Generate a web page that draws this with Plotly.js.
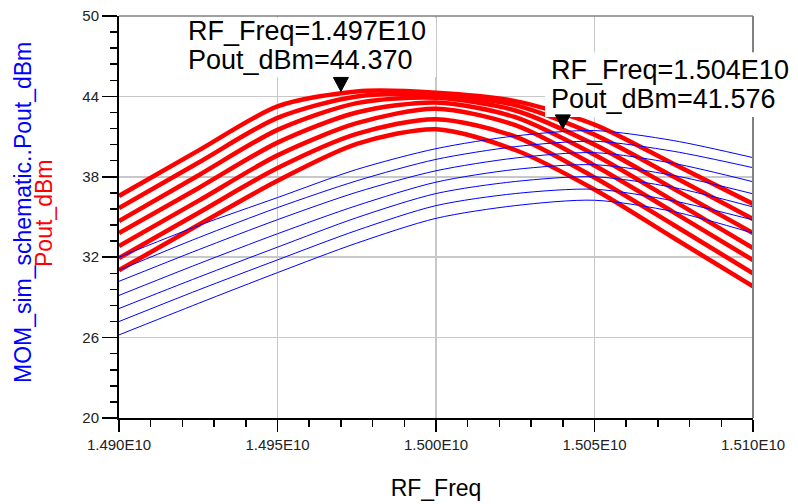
<!DOCTYPE html>
<html><head><meta charset="utf-8">
<script src="https://cdn.plot.ly/plotly-3.0.1.min.js"></script>
<style>html,body{margin:0;padding:0;background:#fff}#chart{width:798px;height:504px}</style>
</head><body><div id="chart"></div>
<script>
// RF frequency samples (Hz)
const freq = [1.4900e10, 1.4925e10, 1.4950e10, 1.4975e10, 1.5000e10, 1.5025e10, 1.5050e10, 1.5075e10, 1.5100e10];

// Pout_dBm (red, thick) – one array per swept curve
const pout0 = [36.57, 39.95, 43.25, 44.37, 44.28, 43.65, 41.90, 38.95, 35.98];
const pout1 = [35.67, 39.05, 42.40, 44.00, 44.12, 43.35, 41.15, 38.00, 34.85];
const pout2 = [34.70, 38.10, 41.50, 43.50, 43.90, 42.95, 40.40, 37.10, 33.80];
const pout3 = [33.80, 37.15, 40.55, 42.80, 43.55, 42.45, 39.65, 36.20, 32.68];
const pout4 = [32.83, 36.20, 39.60, 42.00, 43.08, 41.85, 38.85, 35.35, 31.78];
const pout5 = [31.93, 35.30, 38.65, 41.20, 42.30, 41.00, 37.95, 34.40, 30.80];
const pout6 = [31.03, 34.40, 37.70, 40.45, 41.55, 40.00, 37.05, 33.43, 29.83];

// MOM_sim_schematic..Pout_dBm (blue, thin)
const mom0 = [32.00, 34.35, 36.45, 38.55, 40.10, 41.05, 41.45, 40.70, 39.43];
const mom1 = [31.03, 33.45, 35.70, 37.70, 39.30, 40.25, 40.65, 39.90, 38.68];
const mom2 = [30.20, 32.55, 34.80, 36.85, 38.45, 39.40, 39.80, 39.00, 37.63];
const mom3 = [29.15, 31.50, 33.75, 35.85, 37.60, 38.55, 38.90, 38.10, 36.73];
const mom4 = [28.17, 30.50, 32.75, 34.95, 36.75, 37.65, 38.00, 37.20, 35.75];
const mom5 = [27.20, 29.55, 31.80, 34.00, 35.85, 36.75, 37.07, 36.20, 34.78];
const mom6 = [26.20, 28.55, 30.85, 33.05, 34.90, 35.85, 36.25, 35.40, 33.80];

// Markers
const markerFreq = [1.497e10, 1.504e10];
const markerPout = [44.370, 41.576];

// Axis ticks
const xTickVals = [1.490e10, 1.495e10, 1.500e10, 1.505e10, 1.510e10];
const xTickText = ['1.490E10', '1.495E10', '1.500E10', '1.505E10', '1.510E10'];
const yTickVals = [20, 26, 32, 38, 44, 50];
const yTickText = ['20', '26', '32', '38', '44', '50'];

const redSeries = [pout0, pout1, pout2, pout3, pout4, pout5, pout6];
const blueSeries = [mom0, mom1, mom2, mom3, mom4, mom5, mom6];

const traces = [];
redSeries.forEach((s, i) => traces.push({
  x: freq, y: s, type: 'scatter', mode: 'lines', name: 'Pout_dBm ' + i,
  line: {color: '#ff0000', width: 4.5, shape: 'spline', smoothing: 0.8}, hoverinfo: 'x+y'
}));
blueSeries.forEach((s, i) => traces.push({
  x: freq, y: s, type: 'scatter', mode: 'lines', name: 'MOM_sim_schematic..Pout_dBm ' + i,
  line: {color: '#0000ff', width: 1, shape: 'spline', smoothing: 0.8}, hoverinfo: 'x+y'
}));

const FONT = 'Liberation Sans, Arial, sans-serif';
const annFont = {family: FONT, size: 27, color: '#000'};

const textPos = [
  {x: 0.1072, y1: 0.9627, y2: 0.8905},
  {x: 0.6798, y1: 0.8657, y2: 0.7935}
];

const annotations = [
  {xref: 'paper', yref: 'paper', x: -0.1514, y: 0.51, xanchor: 'center', yanchor: 'middle',
   text: 'MOM_sim_schematic..Pout_dBm', textangle: -90, showarrow: false,
   font: {family: FONT, size: 23, color: '#0000ff'}},
  {xref: 'paper', yref: 'paper', x: -0.1183, y: 0.51, xanchor: 'center', yanchor: 'middle',
   text: 'Pout_dBm', textangle: -90, showarrow: false,
   font: {family: FONT, size: 23, color: '#ff0000'}}
];
markerFreq.forEach((f, i) => {
  annotations.push({xref: 'paper', yref: 'paper', x: textPos[i].x, y: textPos[i].y1,
    xanchor: 'left', yanchor: 'middle', showarrow: false, borderpad: 0,
    text: 'RF_Freq=' + (f / 1e10).toFixed(3) + 'E10', font: annFont});
  annotations.push({xref: 'paper', yref: 'paper', x: textPos[i].x, y: textPos[i].y2,
    xanchor: 'left', yanchor: 'middle', showarrow: false, borderpad: 0,
    text: 'Pout_dBm=' + markerPout[i].toFixed(3), font: annFont});
});

const shapes = [
  {type: 'line', xref: 'paper', yref: 'paper', x0: 0, x1: 1, y0: 1, y1: 1, line: {color: '#808080', width: 1.5}, layer: 'above'},
  {type: 'line', xref: 'paper', yref: 'paper', x0: 1, x1: 1, y0: 0, y1: 1, line: {color: '#808080', width: 2}, layer: 'above'},
  // white boxes behind the marker readouts
  {type: 'rect', xref: 'paper', yref: 'paper', x0: 0.0994, x1: 0.5, y0: 0.8483, y1: 0.995, line: {width: 0}, fillcolor: '#ffffff', layer: 'above'},
  {type: 'rect', xref: 'paper', yref: 'paper', x0: 0.672, x1: 1.08, y0: 0.749, y1: 0.91, line: {width: 0}, fillcolor: '#ffffff', layer: 'above'}
];
// marker triangles: tip anchored at the marker's data point, size in pixels
markerFreq.forEach((f, i) => {
  shapes.push({type: 'path', xref: 'x', yref: 'y', xsizemode: 'pixel', ysizemode: 'pixel',
    xanchor: f, yanchor: markerPout[i], path: 'M-7.5,14 L7.5,14 L0,0 Z',
    fillcolor: '#000000', line: {color: '#000000', width: 1}, layer: 'above'});
});

const layout = {
  width: 798, height: 504,
  margin: {l: 119, r: 45, t: 16, b: 86},
  paper_bgcolor: '#ffffff', plot_bgcolor: '#ffffff',
  showlegend: false,
  font: {family: FONT, color: '#000'},
  xaxis: {
    range: [1.49e10, 1.51e10], tickmode: 'array', tickvals: xTickVals, ticktext: xTickText,
    ticks: 'outside', ticklen: 12, tickwidth: 1.5, tickcolor: '#000',
    showline: true, linecolor: '#000', linewidth: 2,
    showgrid: true, gridcolor: '#c8c8c8', gridwidth: 1.5, zeroline: false,
    tickfont: {family: FONT, size: 15, color: '#222'},
    minor: {tickmode: 'linear', tick0: 1.49e10, dtick: 1e7, ticks: 'outside', ticklen: 7, tickwidth: 1.5, tickcolor: '#000', showgrid: false},
    title: {text: 'RF_Freq', font: {family: FONT, size: 23, color: '#000'}, standoff: 28}
  },
  yaxis: {
    range: [20, 50], tickmode: 'array', tickvals: yTickVals, ticktext: yTickText,
    ticks: 'outside', ticklen: 15, tickwidth: 1.5, tickcolor: '#000',
    showline: true, linecolor: '#000', linewidth: 2,
    showgrid: true, gridcolor: '#c8c8c8', gridwidth: 1.5, zeroline: false,
    tickfont: {family: FONT, size: 15, color: '#222'},
    minor: {tickmode: 'linear', tick0: 20, dtick: 1.2, ticks: 'outside', ticklen: 7, tickwidth: 1.5, tickcolor: '#000', showgrid: false}
  },
  shapes: shapes,
  annotations: annotations
};

Plotly.newPlot('chart', traces, layout, {displayModeBar: false, staticPlot: true});
</script>
</body></html>
